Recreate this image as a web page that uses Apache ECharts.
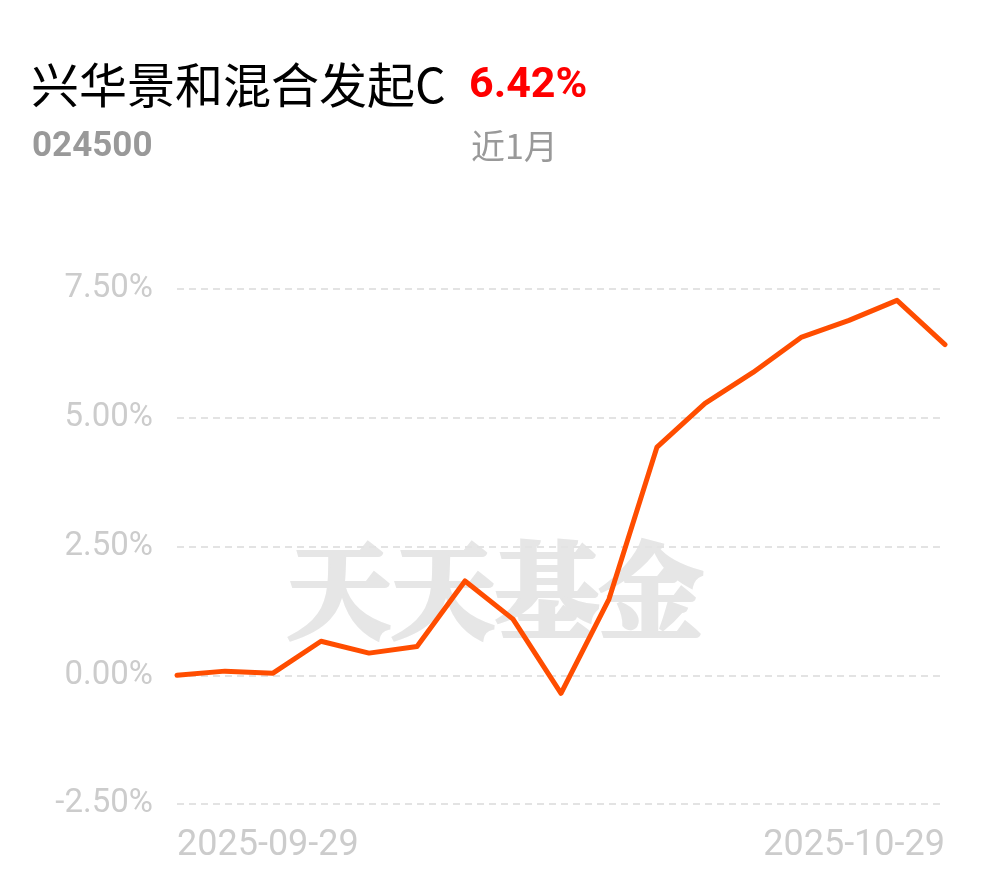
<!DOCTYPE html>
<html>
<head>
<meta charset="utf-8">
<script src="https://cdn.jsdelivr.net/npm/echarts@6/dist/echarts.min.js"></script>
<style>
html,body{margin:0;padding:0;background:#fff;}
#chart{width:990px;height:878px;}
</style>
</head>
<body>
<div id="chart"></div>
<script>
const fundName = '兴华景和混合发起C';
const fundCode = '024500';
const periodReturn = '6.42%';
const periodLabel = '近1月';
const watermarkText = '天天基金';

const dates = ['2025-09-29','2025-09-30','2025-10-09','2025-10-10','2025-10-13','2025-10-14','2025-10-15','2025-10-16','2025-10-17','2025-10-20','2025-10-21','2025-10-22','2025-10-23','2025-10-24','2025-10-27','2025-10-28','2025-10-29'];
const returns = [0.00, 0.08, 0.04, 0.66, 0.43, 0.56, 1.83, 1.09, -0.35, 1.48, 4.43, 5.28, 5.88, 6.56, 6.89, 7.28, 6.42];

const yMin = -2.5, yMax = 7.5, yStep = 2.5;

const chart = echarts.init(document.getElementById('chart'), null, {renderer:'canvas'});
const lastIdx = dates.length - 1;
chart.setOption({
  animation: false,
  backgroundColor: '#ffffff',
  grid: {left: 177, right: 45, top: 289, bottom: 74, containLabel: false},
  graphic: [
    {type:'text', x: 31, y: 85, z: 10, style:{text: fundName, font: 'normal 48px "Noto Sans CJK SC"', fill:'#000000', textVerticalAlign:'middle'}},
    {type:'text', x: 469, y: 86, z: 10, style:{text: periodReturn, font: 'bold 43px Roboto, sans-serif', fill:'#ff0000', textVerticalAlign:'middle'}},
    {type:'text', x: 32, y: 147, z: 10, style:{text: fundCode, font: 'bold 35px Roboto, sans-serif', fill:'#999999', textVerticalAlign:'middle'}},
    {type:'text', x: 471, y: 146, z: 10, style:{text: periodLabel, font: 'normal 34px "Noto Sans CJK SC"', fill:'#999999', textVerticalAlign:'middle'}},
    {type:'text', x: 495, y: 590, z: -1, silent: true, style:{text: watermarkText, font: 'bold 104px "Noto Serif CJK SC", "Noto Sans CJK SC"', fill:'#e6e6e6', stroke:'#e6e6e6', lineWidth: 4, textAlign:'center', textVerticalAlign:'middle'}}
  ],
  xAxis: {
    type: 'category',
    data: dates,
    boundaryGap: false,
    axisLine: {show:false},
    axisTick: {show:false},
    splitLine: {show:false},
    axisLabel: {
      interval: function(i){ return i === 0 || i === lastIdx; },
      alignMinLabel: 'left',
      alignMaxLabel: 'right',
      color: '#cccccc',
      fontSize: 36,
      fontFamily: 'Roboto',
      margin: 24
    }
  },
  yAxis: {
    type: 'value',
    min: yMin, max: yMax, interval: yStep,
    axisLine: {show:false},
    axisTick: {show:false},
    axisLabel: {
      formatter: function(v){ return v.toFixed(2) + '%'; },
      color: '#cccccc',
      fontSize: 33,
      fontFamily: 'Roboto',
      margin: 24
    },
    splitLine: {show:true, lineStyle:{color:'#e3e3e3', width:2, type:[7,5]}}
  },
  series: [{
    type: 'line',
    data: returns,
    symbol: 'none',
    smooth: false,
    z: 5,
    lineStyle: {color:'#ff4d00', width:5, cap:'round', join:'round'}
  }]
});
</script>
</body>
</html>
